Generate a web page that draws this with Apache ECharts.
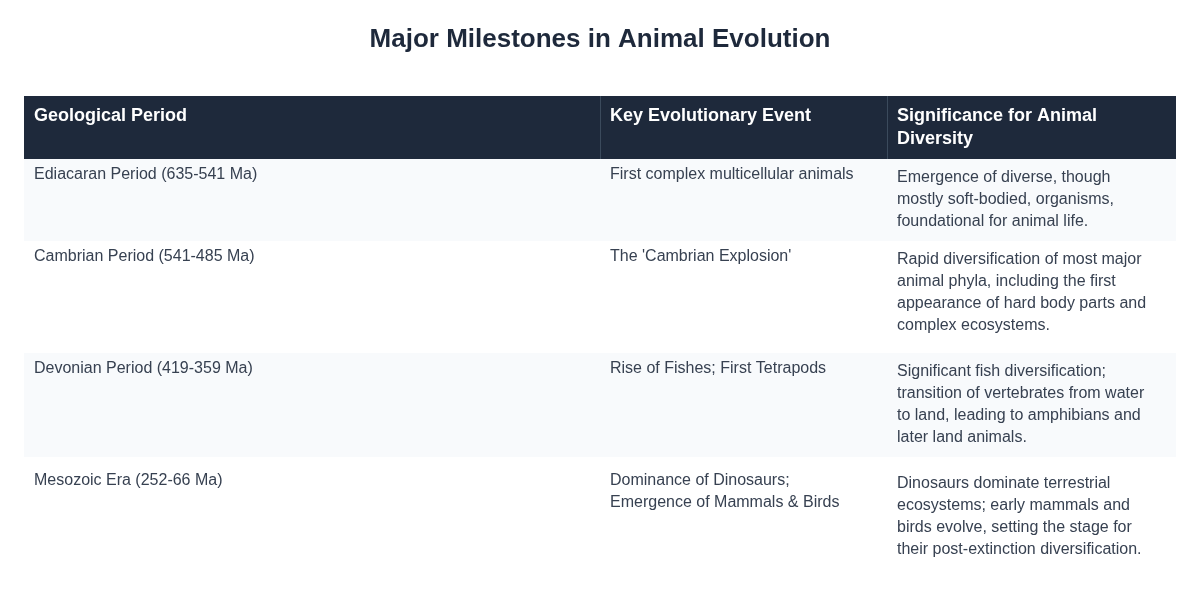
<!DOCTYPE html>
<html><head><meta charset="utf-8">
<script src="https://cdn.jsdelivr.net/npm/echarts@6/dist/echarts.min.js"></script>
<style>html,body{margin:0;padding:0;background:#fff}#c{width:1200px;height:600px}</style>
</head><body><div id="c"></div>
<script>
const title = "Major Milestones in Animal Evolution";
const headers = ["Geological Period", "Key Evolutionary Event", "Significance for Animal\nDiversity"];
const periods = ["Ediacaran Period (635-541 Ma)", "Cambrian Period (541-485 Ma)", "Devonian Period (419-359 Ma)", "Mesozoic Era (252-66 Ma)", "Cenozoic Era (66 Ma - Present)"];
const events = ["First complex multicellular animals", "The 'Cambrian Explosion'", "Rise of Fishes; First Tetrapods", "Dominance of Dinosaurs;\nEmergence of Mammals & Birds", "The 'Age of Mammals' and Birds"];
const significance = [
  "Emergence of diverse, though\nmostly soft-bodied, organisms,\nfoundational for animal life.",
  "Rapid diversification of most major\nanimal phyla, including the first\nappearance of hard body parts and\ncomplex ecosystems.",
  "Significant fish diversification;\ntransition of vertebrates from water\nto land, leading to amphibians and\nlater land animals.",
  "Dinosaurs dominate terrestrial\necosystems; early mammals and\nbirds evolve, setting the stage for\ntheir post-extinction diversification.",
  "Massive diversification of\nmammals and birds."
];

const colX = [24, 600, 887, 1176];
const left = 24, right = 1176, headTop = 96, headH = 63, lineH = 22, clipY = 577;
const els = [];
els.push({type:'rect', shape:{x:left,y:headTop,width:right-left,height:headH}, style:{fill:'#1e293b'}});
for (let i=1;i<3;i++) els.push({type:'rect', shape:{x:colX[i],y:headTop,width:1,height:headH}, style:{fill:'#3b4a5c'}});
headers.forEach((h,i)=>els.push({type:'text', x:colX[i]+10, y:headTop+9, style:{text:h, fill:'#ffffff', font:'bold 18px "Liberation Sans", Arial, sans-serif', lineHeight:23, verticalAlign:'top'}}));
let y = headTop+headH;
periods.forEach((p,r)=>{
  const cells=[p,events[r],significance[r]];
  const lines=Math.max(...cells.map(c=>c.split('\n').length));
  const h = lines*lineH + 16 + (lines>3?0:0);
  els.push({type:'rect', shape:{x:left,y:y,width:right-left,height:h}, style:{fill: r%2===0?'#f8fafc':'#ffffff'}});
  cells.forEach((c,i)=>els.push({type:'text', x:colX[i]+10, y:y+(i===2?8:5), style:{text:c, fill:'#374151', font:'16px "Liberation Sans", Arial, sans-serif', lineHeight:lineH, verticalAlign:'top'}}));
  y += h + (lines>3?8:0);
});
els.push({type:'rect', shape:{x:0,y:clipY,width:1200,height:600-clipY}, style:{fill:'#ffffff'}, z:100});

const chart = echarts.init(document.getElementById('c'));
chart.setOption({
  title:{text:title, left:'center', top:22, textStyle:{fontSize:26, fontWeight:'bold', color:'#1e293b', fontFamily:'"Liberation Sans", Arial, sans-serif'}},
  graphic:{elements:els}
});
</script></body></html>
